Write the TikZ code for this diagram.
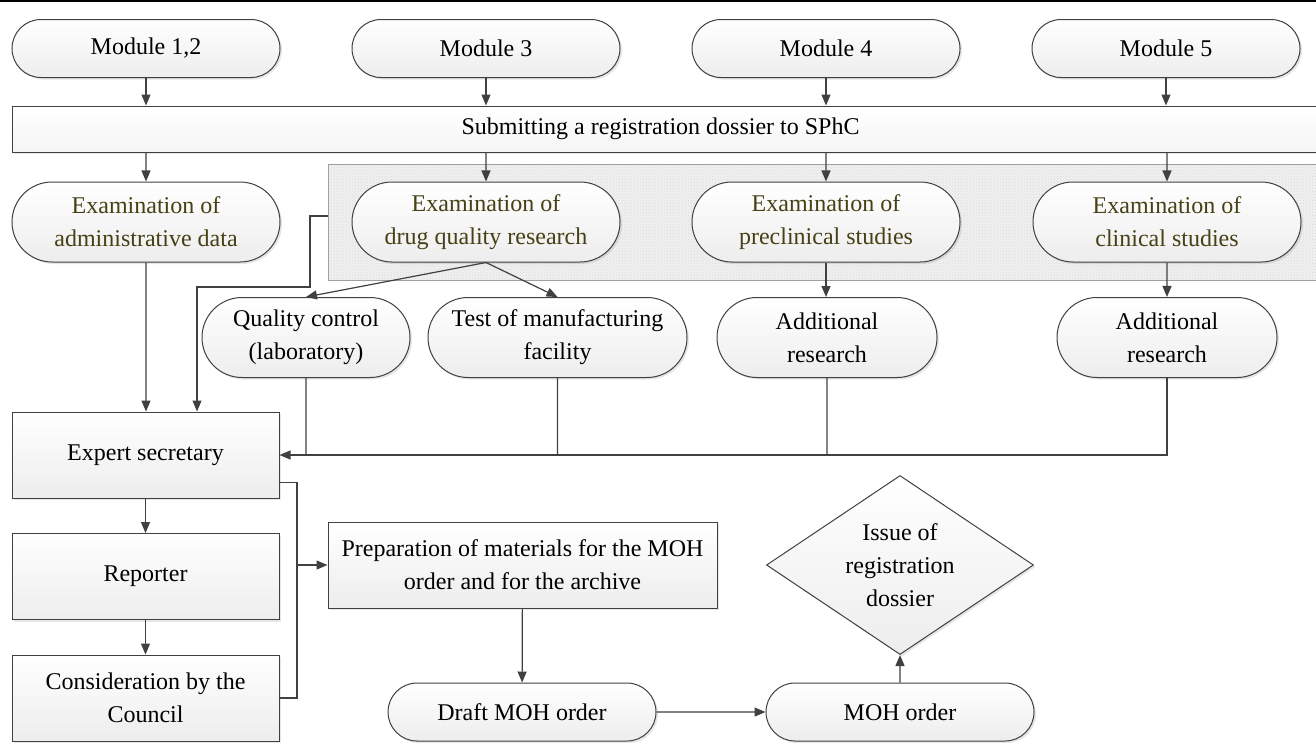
\documentclass[tikz,border=0pt]{standalone}
\usepackage{fontspec}
\setmainfont{Liberation Serif}
\usetikzlibrary{arrows.meta,shapes.misc,shapes.geometric,shadows,patterns}
\definecolor{linegray}{RGB}{64,64,64}
\definecolor{exm}{RGB}{70,64,20}
\tikzset{
  base/.style={draw=linegray,line width=1pt,top color=white,bottom color=gray!14,align=center,inner sep=0pt,
    drop shadow={opacity=.2,shadow xshift=2pt,shadow yshift=-2pt}},
  pill/.style={base,rounded rectangle,minimum width=268pt,minimum height=#1},
  pill/.default=80pt,
  box/.style={base,rectangle,minimum width=267pt,minimum height=86pt},
  wide/.style={base,rectangle,minimum height=46pt,top color=white,bottom color=gray!8},
  panel/.style={draw=gray!75,line width=1pt,preaction={fill=gray!12},pattern=crosshatch dots,pattern color=gray!30},
  rhomb/.style={base,diamond,aspect=1.5,minimum width=267pt,minimum height=179pt},
  wire/.style={draw=linegray,line width=1.2pt}
}
\begin{document}
\begin{tikzpicture}[x=1pt,y=-1pt,>={Triangle[length=11pt,width=9pt]},font=\fontsize{24}{33}\selectfont]
\useasboundingbox (0,0) rectangle (1316,742);
\clip (0,0) rectangle (1316,742);
\draw[line width=2pt] (0,1)--(1316,1);
\node[panel,anchor=north west,minimum width=1020pt,minimum height=116pt] (panel) at (328,164) {};
\foreach \i/\x/\t in {1/146/{Module 1,2},2/486/Module 3,3/826/Module 4,4/1166/Module 5}
  \node[pill=58pt] (mod\i) at (\x,48.5) {\t};
\node[wide,minimum width=1330pt,anchor=west,label={[xshift=-17pt]center:Submitting a registration dossier to SPhC}] (submit) at (12,129) {};
\foreach \i/\x/\t in {1/146/administrative data,2/486/drug quality research,3/826/preclinical studies,4/1167/clinical studies}
  \node[pill,text=exm] (ex\i) at (\x,222) {Examination of\\\t};
\node[pill,minimum width=208pt] (qc) at (306,337.5) {Quality control\\(laboratory)};
\node[pill,minimum width=259pt] (test) at (557.5,337.5) {Test of manufacturing\\facility};
\node[pill,minimum width=220pt] (add1) at (827,337.5) {Additional\\research};
\node[pill,minimum width=220pt] (add2) at (1167,337.5) {Additional\\research};
\node[box] (expert) at (145.5,455) {Expert secretary};
\node[box] (reporter) at (145.5,576.5) {Reporter};
\node[box] (council) at (145.5,698) {Consideration by the\\Council};
\node[box,minimum width=389pt] (prep) at (522.5,565) {Preparation of materials for the MOH\\order and for the archive};
\node[pill=58pt] (draft) at (522,712) {Draft MOH order};
\node[pill=58pt] (moh) at (900,712) {MOH order};
\node[rhomb] (issue) at (900,565) {Issue of\\registration\\dossier};
\foreach \i in {1,...,4}{
  \draw[wire,->] (mod\i) -- (mod\i |- submit.north);
  \draw[wire,->] (ex\i |- submit.south) -- (ex\i);
}
\draw[wire,->] (ex1) -- (ex1 |- expert.north);
\coordinate (tap) at (328,216);
\draw[wire,->] (tap) -| (310,287) -| ([xshift=51.5pt]expert.north);
\draw[wire,->] (ex2.south) -- (qc.north);
\draw[wire,->] (ex2.south) -- (test.north);
\draw[wire,->] (ex3.south) -- (ex3.south |- add1.north);
\draw[wire,->] (ex4) -- (add2);
\draw[wire,->] (add2) |- (expert);
\foreach \n in {qc,test,add1} \draw[wire] (\n) -- (\n |- expert.east);
\draw[wire,->] (expert) -- (reporter);
\draw[wire,->] (reporter) -- (council);
\coordinate (join) at (297,565);
\draw[wire] ([yshift=16pt]expert.south east) -| (join);
\draw[wire] (council) -| (join);
\draw[wire,->] (join) -- (prep);
\draw[wire,->] (prep) -- (draft);
\draw[wire,->] (draft) -- (moh);
\draw[wire,->] (moh) -- (issue);
\end{tikzpicture}
\end{document}
